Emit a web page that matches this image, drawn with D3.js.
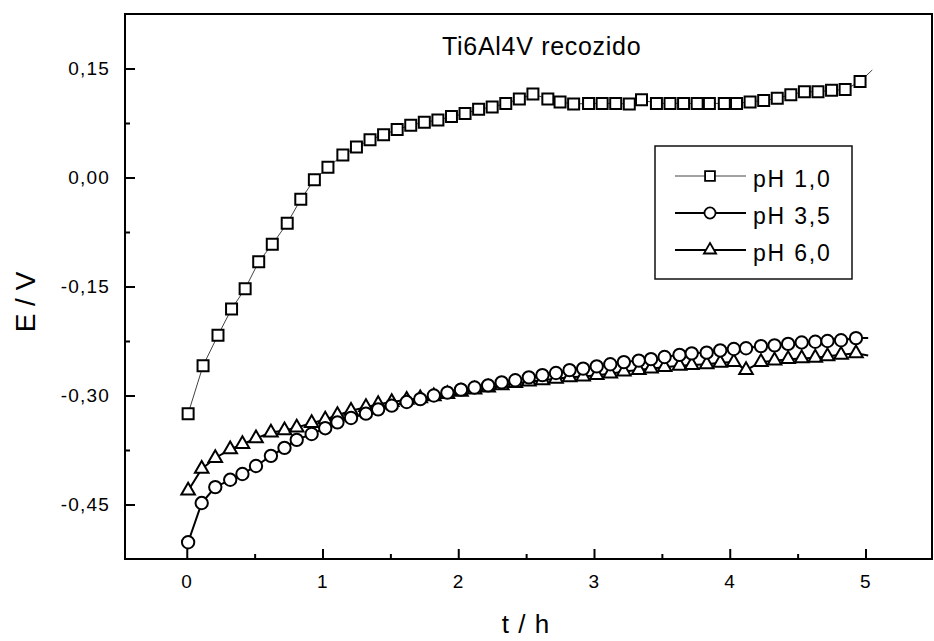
<!DOCTYPE html>
<html>
<head>
<meta charset="utf-8">
<script src="https://cdn.jsdelivr.net/npm/d3@7"></script>
<style>
	body { margin: 0; background: #fff; }
	svg { display: block; font-family: "Liberation Sans", Arial, Helvetica, sans-serif; }
</style>
</head>
<body>
<svg id="chart" width="934" height="641"></svg>
<script>
// DATA (t in h, E in V)
var timesPh1 = [0.01,0.12,0.23,0.33,0.43,0.53,0.63,0.74,0.84,0.94,
	1.04,1.15,1.25,1.35,1.45,1.55,1.65,1.75,1.85,1.95,
	2.05,2.15,2.25,2.35,2.45,2.55,2.66,2.75,2.85,2.96,
	3.06,3.16,3.26,3.35,3.46,3.56,3.66,3.76,3.85,3.96,
	4.05,4.15,4.25,4.35,4.45,4.55,4.65,4.75,4.85,4.96]
var potentialPh1 = [-0.325,-0.259,-0.217,-0.181,-0.153,-0.116,-0.092,-0.063,-0.030,-0.003,
	0.014,0.031,0.042,0.052,0.059,0.066,0.072,0.076,0.079,0.084,
	0.088,0.094,0.097,0.102,0.108,0.115,0.108,0.104,0.101,0.102,
	0.102,0.102,0.101,0.107,0.102,0.102,0.102,0.102,0.102,0.102,
	0.102,0.104,0.106,0.109,0.114,0.118,0.118,0.120,0.121,0.132]
var lastPh1 = [5.05, 0.148] // line keeps going after the last symbol

var timesPh35 = [0.01,0.11,0.21,0.32,0.41,0.51,0.62,0.72,0.81,0.92,
	1.02,1.11,1.21,1.32,1.41,1.51,1.62,1.72,1.82,1.92,
	2.02,2.12,2.22,2.32,2.42,2.52,2.62,2.72,2.82,2.92,
	3.02,3.12,3.22,3.33,3.42,3.52,3.63,3.72,3.83,3.93,
	4.03,4.12,4.23,4.33,4.43,4.53,4.63,4.72,4.82,4.93]
var potentialPh35 = [-0.502,-0.448,-0.426,-0.416,-0.408,-0.397,-0.383,-0.372,-0.361,-0.353,
	-0.345,-0.337,-0.331,-0.325,-0.319,-0.314,-0.309,-0.305,-0.300,-0.296,
	-0.292,-0.289,-0.286,-0.282,-0.279,-0.275,-0.272,-0.269,-0.265,-0.263,
	-0.260,-0.257,-0.254,-0.252,-0.250,-0.247,-0.244,-0.242,-0.241,-0.238,
	-0.236,-0.235,-0.232,-0.231,-0.229,-0.227,-0.226,-0.225,-0.224,-0.221]
var lastPh35 = [5.02, -0.221]

var timesPh6 = timesPh35
var potentialPh6 = [-0.431,-0.401,-0.386,-0.374,-0.367,-0.359,-0.351,-0.348,-0.344,-0.338,
	-0.333,-0.327,-0.321,-0.316,-0.312,-0.309,-0.306,-0.304,-0.301,-0.298,
	-0.295,-0.292,-0.289,-0.286,-0.283,-0.281,-0.279,-0.277,-0.275,-0.274,
	-0.272,-0.270,-0.267,-0.265,-0.263,-0.261,-0.259,-0.258,-0.257,-0.255,
	-0.254,-0.265,-0.254,-0.252,-0.250,-0.249,-0.248,-0.246,-0.244,-0.242]
var lastPh6 = [5.02, -0.245]

var seriesNames = ['pH 1,0', 'pH 3,5', 'pH 6,0']

var xTicks = [0, 1, 2, 3, 4, 5]
var xMinorTicks = [0.5, 1.5, 2.5, 3.5, 4.5]
var xTickLabels = ['0', '1', '2', '3', '4', '5']
var yTicks = [0.15, 0, -0.15, -0.30, -0.45]
var yMinorTicks = [0.075, -0.075, -0.225, -0.375]
var yTickLabels = ['0,15', '0,00', '-0,15', '-0,30', '-0,45']

var chartTitle = 'Ti6Al4V recozido'
var xTitle = 't / h'
var yTitle = 'E / V'

;(function() {

	var svg = d3.select('#chart')
	var frame = { left: 125, right: 932, top: 14, bottom: 559 }

	var x = d3.scaleLinear().domain([-0.455, 5.49]).range([frame.left, frame.right])
	var y = d3.scaleLinear().domain([-0.525, 0.225]).range([frame.bottom, frame.top])

	function toPoints(times, values, last) {
		var pts = times.map(function(t, i) { return { t: t, e: values[i] } })
		return { marks: pts, line: pts.concat([{ t: last[0], e: last[1] }]) }
	}

	var series = [
		{ name: seriesNames[0], symbol: d3.symbolSquare, size: 121, lineWidth: 1, lineColor: '#444' },
		{ name: seriesNames[1], symbol: d3.symbolCircle, size: 120, lineWidth: 2, lineColor: '#000' },
		{ name: seriesNames[2], symbol: d3.symbolTriangle, size: 80, lineWidth: 2, lineColor: '#000' }
	]
	series[0].data = toPoints(timesPh1, potentialPh1, lastPh1)
	series[1].data = toPoints(timesPh35, potentialPh35, lastPh35)
	series[2].data = toPoints(timesPh6, potentialPh6, lastPh6)

	// AXES (ticks point inside the frame)
	function tickFormat(values, labels) {
		return function(d) { return labels[values.indexOf(d)] }
	}

	var axisX = d3.axisBottom(x)
		.tickValues(xTicks)
		.tickFormat(tickFormat(xTicks, xTickLabels))
		.tickSizeInner(-10)
		.tickSizeOuter(0)
		.tickPadding(16)

	var axisXMinor = d3.axisBottom(x)
		.tickValues(xMinorTicks)
		.tickFormat('')
		.tickSizeInner(-5)
		.tickSizeOuter(0)

	var axisY = d3.axisLeft(y)
		.tickValues(yTicks)
		.tickFormat(tickFormat(yTicks, yTickLabels))
		.tickSizeInner(-10)
		.tickSizeOuter(0)
		.tickPadding(15)

	var axisYMinor = d3.axisLeft(y)
		.tickValues(yMinorTicks)
		.tickFormat('')
		.tickSizeInner(-5)
		.tickSizeOuter(0)

	function styleAxis(g) {
		g.attr('font-family', null)
		g.select('.domain').remove()
		g.selectAll('line').attr('stroke', '#000').attr('stroke-width', 2)
		g.selectAll('text')
			.attr('fill', '#000')
			.style('font-size', '19px')
			.style('letter-spacing', '1.2px')
	}

	svg.append('g')
		.attr('transform', 'translate(0,' + frame.bottom + ')')
		.call(axisX).call(styleAxis)
	svg.append('g')
		.attr('transform', 'translate(0,' + frame.bottom + ')')
		.call(axisXMinor).call(styleAxis)
	svg.append('g')
		.attr('transform', 'translate(' + frame.left + ',0)')
		.call(axisY).call(styleAxis)
	svg.append('g')
		.attr('transform', 'translate(' + frame.left + ',0)')
		.call(axisYMinor).call(styleAxis)

	// frame
	svg.append('rect')
		.attr('x', frame.left)
		.attr('y', frame.top)
		.attr('width', frame.right - frame.left)
		.attr('height', frame.bottom - frame.top)
		.attr('fill', 'none')
		.attr('stroke', '#000')
		.attr('stroke-width', 2)

	// SERIES - drawn back to front so circles sit over triangles
	var line = d3.line()
		.x(function(d) { return x(d.t) })
		.y(function(d) { return y(d.e) })

	var plot = svg.append('g').attr('class', 'plot')

	series.slice().reverse().forEach(function(s) {
		var g = plot.append('g')
		g.append('path')
			.datum(s.data.line)
			.attr('d', line)
			.attr('fill', 'none')
			.attr('stroke', s.lineColor)
			.attr('stroke-width', s.lineWidth)

		g.selectAll('path.mark')
			.data(s.data.marks)
			.enter()
			.append('path')
			.attr('class', 'mark')
			.attr('transform', function(d) { return 'translate(' + x(d.t) + ',' + y(d.e) + ')' })
			.attr('d', d3.symbol().type(s.symbol).size(s.size))
			.attr('fill', '#fff')
			.attr('stroke', '#000')
			.attr('stroke-width', 2)
	})

	// TEXTS
	svg.append('text')
		.attr('x', 442)
		.attr('y', 55)
		.style('font-size', '25px')
		.style('letter-spacing', '0.7px')
		.attr('fill', '#000')
		.text(chartTitle)

	svg.append('text')
		.attr('text-anchor', 'middle')
		.attr('x', 526)
		.attr('y', 633)
		.style('font-size', '26px')
		.style('letter-spacing', '1px')
		.attr('fill', '#000')
		.text(xTitle)

	svg.append('text')
		.attr('text-anchor', 'middle')
		.attr('transform', 'translate(35,302)rotate(-90)')
		.style('font-size', '28px')
		.attr('fill', '#000')
		.text(yTitle)

	// LEGEND
	var legend = svg.append('g').attr('class', 'legend')
	legend.append('rect')
		.attr('x', 655)
		.attr('y', 146)
		.attr('width', 197)
		.attr('height', 133)
		.attr('fill', '#fff')
		.attr('stroke', '#111')
		.attr('stroke-width', 1.5)

	var rowY = [176, 213, 250]
	series.forEach(function(s, i) {
		var row = legend.append('g').attr('transform', 'translate(0,' + rowY[i] + ')')
		row.append('line')
			.attr('x1', 675).attr('x2', 746)
			.attr('stroke', s.lineColor)
			.attr('stroke-width', s.lineWidth)
		row.append('path')
			.attr('transform', 'translate(710,0)')
			.attr('d', d3.symbol().type(s.symbol).size(s.size * 0.8))
			.attr('fill', '#fff')
			.attr('stroke', '#000')
			.attr('stroke-width', 1.8)
		row.append('text')
			.attr('x', 753)
			.attr('y', 11)
			.style('font-size', '23px')
			.style('letter-spacing', '1.8px')
			.attr('fill', '#000')
			.text(s.name)
	})

})()
</script>
</body>
</html>
